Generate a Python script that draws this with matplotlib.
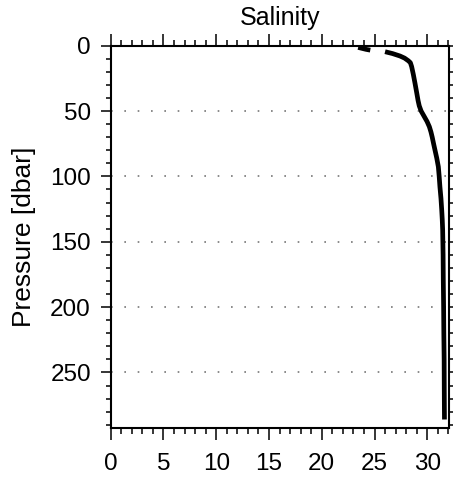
import numpy as np
import matplotlib
matplotlib.use('Agg')
import matplotlib.pyplot as plt
from matplotlib.ticker import MultipleLocator

# ── Data ─────────────────────────────────────────────────────────────────────
# near-surface fragment, separated from the main cast by a gap
p_top = [1.3, 2.0, 2.8, 3.4]
s_top = [23.45, 23.8, 24.2, 24.6]

pressure = [4.6, 6.0, 7.9, 9.5, 11.5, 13, 16, 22, 28.8, 36, 42, 46, 50, 54,
            58, 62, 66, 70, 75, 79.8, 86, 92.6, 100, 107.9, 117, 125.7, 133,
            141, 160, 180, 200, 220, 240, 260, 275, 286]
salinity = [26.0, 26.7, 27.42, 27.85, 28.2, 28.4, 28.52, 28.68, 28.84, 29.0,
            29.13, 29.24, 29.42, 29.7, 29.98, 30.2, 30.35, 30.47, 30.6, 30.73,
            30.9, 31.05, 31.13, 31.2, 31.3, 31.37, 31.42, 31.46, 31.5, 31.52,
            31.55, 31.57, 31.6, 31.61, 31.62, 31.63]

grid_p = [50, 100, 150, 200, 250]

# ── Figure ───────────────────────────────────────────────────────────────────
plt.rcParams['font.family'] = ['Liberation Sans', 'DejaVu Sans']
W, H = 453, 479
fig = plt.figure(figsize=(W / 100, H / 100), dpi=100)
ax = fig.add_axes([110.7 / W, 1 - 428 / H, (449 - 110.7) / W, (428 - 45.7) / H])

for p in grid_p:
    ax.axhline(p, color='#777777', lw=1.2, ls=(0, (1, 7)), zorder=1)

ax.plot(s_top, p_top, color='black', lw=3.4, solid_capstyle='butt', zorder=3)
ax.plot(salinity, pressure, color='black', lw=3.4, solid_capstyle='butt', zorder=3)

ax.set_xlim(0, 32.06)
ax.set_ylim(292.5, 0)

ax.xaxis.set_major_locator(MultipleLocator(5))
ax.xaxis.set_minor_locator(MultipleLocator(1))
ax.yaxis.set_major_locator(MultipleLocator(50))
ax.yaxis.set_minor_locator(MultipleLocator(10))

ax.tick_params(axis='x', which='both', direction='out', top=True, bottom=True,
               labeltop=False, labelsize=17.5, pad=10, width=1.1)
ax.tick_params(axis='x', which='major', length=8.3)
ax.tick_params(axis='x', which='minor', length=4.3)
ax.tick_params(axis='y', which='both', direction='out', left=True, right=True,
               labelright=False, labelsize=17.5, pad=7, width=1.1)
ax.tick_params(axis='y', which='major', length=7.2)
ax.tick_params(axis='y', which='minor', length=3.6)
for sp in ax.spines.values():
    sp.set_linewidth(1.5)

fig.text(280 / W, 1 - 18 / H, 'Salinity', ha='center', va='center', fontsize=18)
fig.text(24 / W, 1 - 236.7 / H, 'Pressure [dbar]', ha='center', va='center',
         rotation=90, fontsize=19)

fig.savefig('out.png', dpi=100)
